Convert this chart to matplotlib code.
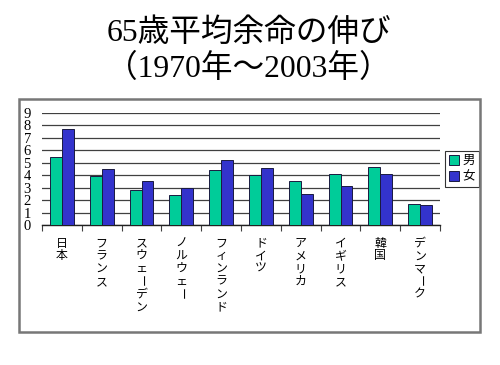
"""65歳平均余命の伸び (1970-2003) grouped bar chart."""

import numpy as np
import matplotlib
matplotlib.use("Agg")
import matplotlib.pyplot as plt
from matplotlib import transforms
from matplotlib.patches import Rectangle

# data
countries = ["日本", "フランス", "スウェーデン", "ノルウェー", "フィンランド",
             "ドイツ", "アメリカ", "イギリス", "韓国", "デンマーク"]
male = [5.5, 3.9, 2.8, 2.4, 4.4, 4.0, 3.5, 4.1, 4.7, 1.7]
female = [7.7, 4.5, 3.5, 3.0, 5.2, 4.6, 2.5, 3.1, 4.1, 1.6]
series_names = ["男", "女"]
y_ticks = list(range(0, 10))
title_lines = ["65歳平均余命の伸び", "（1970年～2003年）"]

SERIF = ["Liberation Serif", "Noto Sans CJK JP"]
CJK = ["Noto Sans CJK JP", "DejaVu Sans"]
GREEN = "#00CC99"
BLUE = "#3333CC"

fig = plt.figure(figsize=(5.0, 3.65), dpi=100)
fig.patch.set_facecolor("white")

# title
fig.text(0.497, 0.908, title_lines[0], ha="center", va="center",
         fontsize=22.8, family=SERIF)
fig.text(0.497, 0.812, title_lines[1], ha="center", va="center",
         fontsize=22.8, family=SERIF)

# chart frame
fig.patches.append(Rectangle((0.038, 0.090), 0.922, 0.639,
                             transform=fig.transFigure, fill=False,
                             edgecolor="#777777", linewidth=1.8))

ax = fig.add_axes([0.084, 0.3836, 0.796, 0.3068])
x = np.arange(len(countries))
w = 0.3
b1 = ax.bar(x - w / 2, male, w, color=GREEN, edgecolor="#1a1a40",
            linewidth=0.7, label=series_names[0], zorder=3)
b2 = ax.bar(x + w / 2, female, w, color=BLUE, edgecolor="#1a1a40",
            linewidth=0.7, label=series_names[1], zorder=3)

ax.set_xlim(-0.5, len(countries) - 0.5)
ax.set_ylim(0, 9)
ax.set_yticks(y_ticks)
ax.set_yticklabels([str(t) for t in y_ticks], family=SERIF, fontsize=10.5)
ax.tick_params(axis="y", length=0, pad=8)
ax.yaxis.grid(True, color="#404040", linewidth=0.9, zorder=0)
ax.set_axisbelow(True)

ax.set_xticks(np.arange(len(countries) + 1) - 0.5)
ax.set_xticklabels([])
ax.tick_params(axis="x", length=4, width=0.8, color="#404040", direction="out")

for side in ["left", "top", "right"]:
    ax.spines[side].set_visible(False)
ax.spines["bottom"].set_color("#202020")
ax.spines["bottom"].set_linewidth(1.0)

# vertical category labels, one character per line
base = ax.get_xaxis_transform()
for i, name in enumerate(countries):
    for j, ch in enumerate(name):
        tr = transforms.offset_copy(base, fig=fig, x=0, y=-(13 + j * 9.2),
                                    units="points")
        ax.text(i, 0, ch, transform=tr, ha="center", va="center",
                fontsize=8.6, family=CJK,
                rotation=-90 if ch == "ー" else 0)

leg = ax.legend(handles=[b1, b2], loc="center left",
                bbox_to_anchor=(0.890, 0.537),
                bbox_transform=fig.transFigure, prop={"family": CJK, "size": 9},
                frameon=True, fancybox=False, handlelength=0.8,
                handleheight=0.8, handletextpad=0.3, borderpad=0.3,
                labelspacing=0.25, borderaxespad=0)
leg.get_frame().set_edgecolor("black")
leg.get_frame().set_linewidth(0.8)

fig.savefig("out.png", dpi=100)
